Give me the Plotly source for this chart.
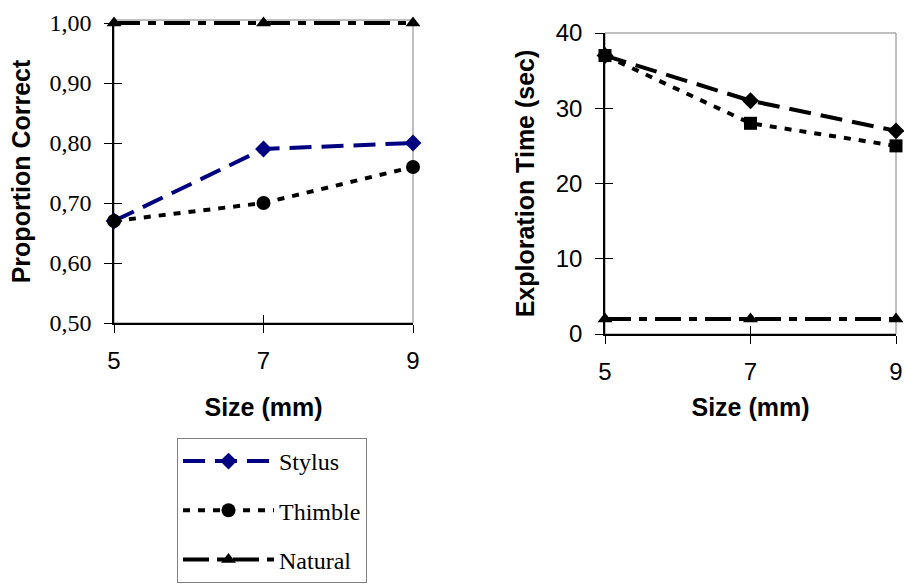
import plotly.graph_objects as go

sizes = [5, 7, 9]
series_names = ["Stylus", "Thimble", "Natural"]

# Proportion correct (left chart)
prop_stylus = [0.67, 0.79, 0.80]
prop_thimble = [0.67, 0.70, 0.76]
prop_natural = [1.00, 1.00, 1.00]

# Exploration time in seconds (right chart)
time_stylus = [37, 31, 27]
time_thimble = [37, 28, 25]
time_natural = [2, 2, 2]

prop_ticks = [0.5, 0.6, 0.7, 0.8, 0.9, 1.0]
time_ticks = [0, 10, 20, 30, 40]

W, H = 904, 586
SERIF = "Liberation Serif, Times New Roman, serif"
SANS = "Liberation Sans, Arial, sans-serif"

def px_x(a, b):
    return [a / W, b / W]

def px_y(top, bottom):
    return [1 - bottom / H, 1 - top / H]

DASH_STYLUS = "22px,10px"
DASH_THIMBLE = "7px,8px"
DASH_NATURAL = "26px,8px,8px,8px"

styles_left = {
    "Stylus": dict(color="#000080", dash=DASH_STYLUS, symbol="diamond", msize=13),
    "Thimble": dict(color="black", dash=DASH_THIMBLE, symbol="circle", msize=14),
    "Natural": dict(color="black", dash=DASH_NATURAL, symbol="triangle-up", msize=13),
}
styles_right = {
    "Stylus": dict(color="black", dash=DASH_STYLUS, symbol="diamond", msize=13),
    "Thimble": dict(color="black", dash=DASH_THIMBLE, symbol="square", msize=13),
    "Natural": dict(color="black", dash=DASH_NATURAL, symbol="triangle-up", msize=13),
}

fig = go.Figure()

left_vals = [prop_stylus, prop_thimble, prop_natural]
right_vals = [time_stylus, time_thimble, time_natural]

for name, vals in zip(series_names, left_vals):
    s = styles_left[name]
    fig.add_trace(go.Scatter(
        x=sizes, y=vals, name=name, mode="lines+markers",
        line=dict(color=s["color"], width=4, dash=s["dash"]),
        marker=dict(symbol=s["symbol"], size=s["msize"], color=s["color"]),
        cliponaxis=False, xaxis="x", yaxis="y", legendgroup=name,
    ))

for name, vals in zip(series_names, right_vals):
    s = styles_right[name]
    fig.add_trace(go.Scatter(
        x=sizes, y=vals, name=name, mode="lines+markers", showlegend=False,
        line=dict(color=s["color"], width=4, dash=s["dash"]),
        marker=dict(symbol=s["symbol"], size=s["msize"], color=s["color"]),
        cliponaxis=False, xaxis="x2", yaxis="y2", legendgroup=name,
    ))

# empty traces so the overlay axes (inward tick halves) get drawn
for xa, ya in [("x3", "y3"), ("x4", "y4")]:
    fig.add_trace(go.Scatter(x=[], y=[], xaxis=xa, yaxis=ya, showlegend=False,
                             hoverinfo="skip"))

axis_common = dict(
    showgrid=False, zeroline=False, showline=True, linecolor="black", linewidth=1.5,
    ticks="outside", ticklen=8, tickcolor="black", tickwidth=1, automargin=False,
)
inner_common = dict(
    showgrid=False, zeroline=False, showline=False, showticklabels=False,
    ticks="inside", ticklen=8, tickcolor="black", tickwidth=1, automargin=False,
)

Y1_RANGE = [0.5, 1.005]
Y1_TOP = 323 - 300 * (Y1_RANGE[1] - 0.5) / 0.5

fig.update_layout(
    width=W, height=H,
    margin=dict(l=0, r=0, t=0, b=0),
    paper_bgcolor="white", plot_bgcolor="white",
    separators=",.",
    showlegend=True,
    xaxis=dict(
        **axis_common, domain=px_x(114, 413), anchor="y", range=[5, 9],
        tickvals=sizes, ticktext=[str(v) for v in sizes],
        tickfont=dict(family=SANS, size=24, color="black"), ticklabelstandoff=7,
        title=dict(text="<b>Size (mm)</b>", font=dict(family=SANS, size=25, color="black"), standoff=26),
    ),
    yaxis=dict(
        **axis_common, domain=px_y(Y1_TOP, 323), anchor="x", range=Y1_RANGE,
        tickvals=prop_ticks, tickformat=".2f",
        tickfont=dict(family=SERIF, size=24, color="black"), ticklabelstandoff=8,
        title=dict(text="<b>Proportion Correct</b>", font=dict(family=SANS, size=25, color="black"), standoff=12),
    ),
    xaxis2=dict(
        **axis_common, domain=px_x(605, 896), anchor="y2", range=[5, 9],
        tickvals=sizes, ticktext=[str(v) for v in sizes],
        tickfont=dict(family=SANS, size=24, color="black"), ticklabelstandoff=7,
        title=dict(text="<b>Size (mm)</b>", font=dict(family=SANS, size=25, color="black"), standoff=15),
    ),
    yaxis2=dict(
        **axis_common, domain=px_y(33, 334), anchor="x2", range=[0, 40],
        tickvals=time_ticks,
        tickfont=dict(family=SANS, size=24, color="black"), ticklabelstandoff=8,
        title=dict(text="<b>Exploration Time (sec)</b>", font=dict(family=SANS, size=25, color="black"), standoff=14),
    ),
    # inward half of the crossing tick marks
    xaxis3=dict(**inner_common, overlaying="x", matches="x", anchor="y3", tickvals=sizes),
    yaxis3=dict(**inner_common, overlaying="y", matches="y", anchor="x3", tickvals=prop_ticks),
    xaxis4=dict(**inner_common, overlaying="x2", matches="x2", anchor="y4", tickvals=sizes),
    yaxis4=dict(**inner_common, overlaying="y2", matches="y2", anchor="x4", tickvals=time_ticks),
    legend=dict(
        x=177 / W, y=1 - 438 / H, xanchor="left", yanchor="top",
        bordercolor="#808080", borderwidth=1, bgcolor="white",
        font=dict(family=SERIF, size=24, color="black"),
        itemwidth=91, traceorder="grouped", tracegroupgap=15,
    ),
)

# gray plot-area frames
for xr, yr in [("x domain", "y domain"), ("x2 domain", "y2 domain")]:
    fig.add_shape(type="rect", xref=xr, yref=yr, x0=0, x1=1, y0=0, y1=1,
                  line=dict(color="#808080", width=1), layer="below")

fig.write_html(
    "out.html",
    config={"displayModeBar": False},
    post_script="document.body.style.margin='0';document.body.style.overflow='hidden';",
)
